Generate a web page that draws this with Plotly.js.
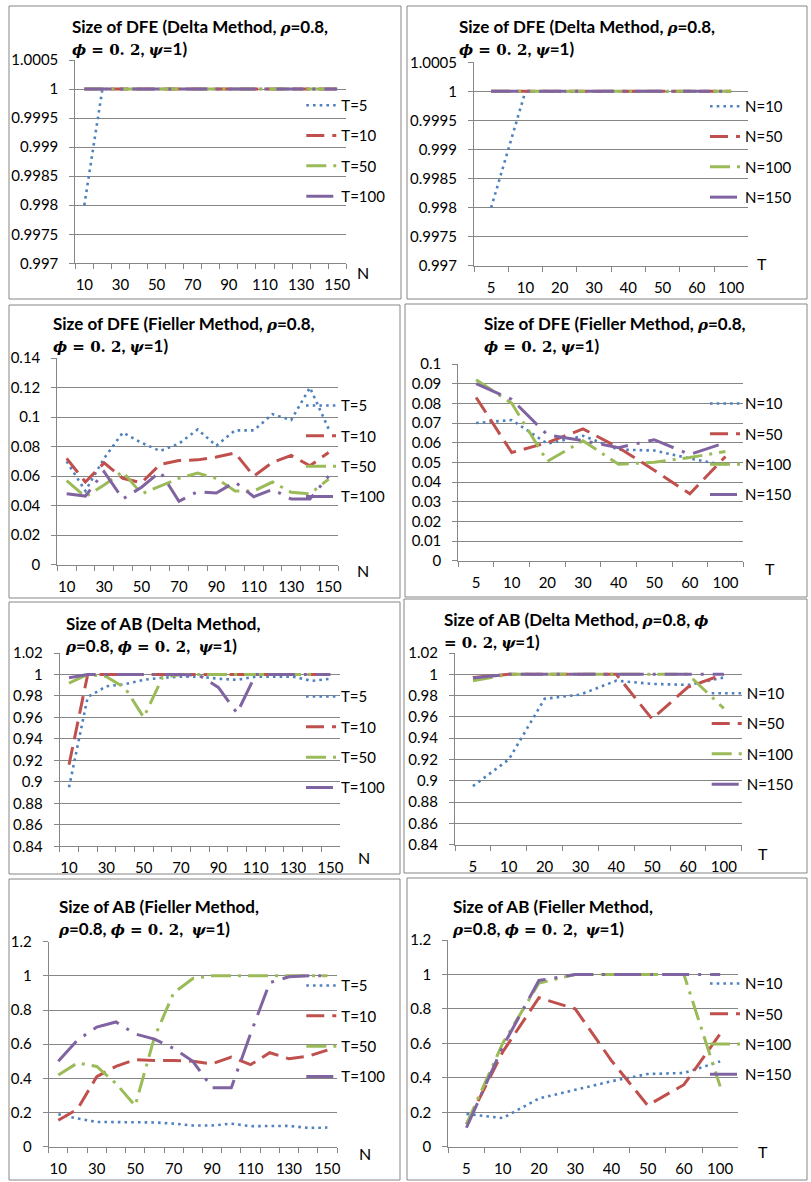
<!DOCTYPE html>
<html>
<head>
<meta charset="utf-8">
<script src="https://cdn.plot.ly/plotly-3.0.1.min.js"></script>
<style>html,body{margin:0;padding:0;background:#fff}#chart{width:811px;height:1182px}</style>
</head>
<body>
<div id="chart"></div>
<script>
// ---------------- DATA ----------------
const nCats = ['10','20','30','40','50','60','70','80','90','100','110','120','130','140','150'];
const nTickText = ['10','','30','','50','','70','','90','','110','','130','','150'];
const tCats = ['5','10','20','30','40','50','60','100'];
const tNames = ['T=5','T=10','T=50','T=100'];
const nNames = ['N=10','N=50','N=100','N=150'];

// Panel 1: Size of DFE (Delta), x = N
const p1_T5   = [0.998,1,1,1,1,1,1,1,1,1,1,1,1,1,1];
const p1_T10  = [1,1,1,1,1,1,1,1,1,1,1,1,1,1,1];
const p1_T50  = [1,1,1,1,1,1,1,1,1,1,1,1,1,1,1];
const p1_T100 = [1,1,1,1,1,1,1,1,1,1,1,1,1,1,1];
// Panel 2: Size of DFE (Delta), x = T
const p2_N10  = [0.998,1,1,1,1,1,1,1];
const p2_N50  = [1,1,1,1,1,1,1,1];
const p2_N100 = [1,1,1,1,1,1,1,1];
const p2_N150 = [1,1,1,1,1,1,1,1];
// Panel 3: Size of DFE (Fieller), x = N
const p3_T5   = [0.070,0.050,0.072,0.0895,0.0826,0.077,0.082,0.0916,0.0806,0.091,0.091,0.102,0.098,0.120,0.092];
const p3_T10  = [0.072,0.056,0.069,0.0585,0.0555,0.068,0.0705,0.071,0.073,0.0757,0.060,0.0693,0.074,0.067,0.076];
const p3_T50  = [0.057,0.046,0.054,0.063,0.048,0.053,0.0585,0.062,0.0585,0.050,0.050,0.056,0.049,0.048,0.058];
const p3_T100 = [0.048,0.0465,0.063,0.0445,0.0525,0.063,0.043,0.0495,0.0485,0.056,0.046,0.051,0.0445,0.0445,0.060];
// Panel 4: Size of DFE (Fieller), x = T
const p4_N10  = [0.070,0.0715,0.0595,0.0635,0.0565,0.056,0.052,0.0485];
const p4_N50  = [0.083,0.055,0.060,0.067,0.0575,0.046,0.034,0.053];
const p4_N100 = [0.092,0.080,0.0505,0.061,0.049,0.050,0.0525,0.0555];
const p4_N150 = [0.090,0.082,0.064,0.061,0.0575,0.0615,0.054,0.060];
// Panel 5: Size of AB (Delta), x = N
const p5_T5   = [0.895,0.979,0.989,0.991,0.995,0.997,0.998,0.998,0.996,0.995,0.998,0.998,0.998,0.994,0.996];
const p5_T10  = [0.916,1,1,1,1,1,1,1,1,1,1,1,1,1,1];
const p5_T50  = [0.992,1,0.998,0.9875,0.960,0.997,1,1,1,1,1,1,1,1,1];
const p5_T100 = [0.997,1,1,1,1,1,1,0.999,0.988,0.964,1,1,1,1,1];
// Panel 6: Size of AB (Delta), x = T
const p6_N10  = [0.895,0.920,0.977,0.981,0.994,0.991,0.990,0.997];
const p6_N50  = [0.997,1,1,1,1,0.958,0.988,1];
const p6_N100 = [0.994,1,1,1,1,1,1,0.968];
const p6_N150 = [0.9965,1,1,1,1,1,1,1];
// Panel 7: Size of AB (Fieller), x = N
const p7_T5   = [0.19,0.165,0.145,0.143,0.143,0.142,0.135,0.124,0.124,0.135,0.12,0.12,0.122,0.11,0.112];
const p7_T10  = [0.155,0.22,0.41,0.47,0.51,0.505,0.505,0.50,0.485,0.525,0.48,0.55,0.515,0.53,0.565];
const p7_T50  = [0.42,0.49,0.47,0.37,0.24,0.64,0.90,0.985,1,1,1,1,1,1,1];
const p7_T100 = [0.50,0.625,0.70,0.73,0.66,0.63,0.575,0.50,0.345,0.345,0.66,0.96,0.995,1,1];
// Panel 8: Size of AB (Fieller), x = T
const p8_N10  = [0.19,0.166,0.28,0.328,0.38,0.422,0.428,0.495];
const p8_N50  = [0.13,0.55,0.865,0.80,0.50,0.24,0.36,0.655];
const p8_N100 = [0.13,0.60,0.95,1,1,1,1,0.35];
const p8_N150 = [0.11,0.58,0.965,1,1,1,1,1];

// y tick values and labels
const yv1 = [0.997,0.9975,0.998,0.9985,0.999,0.9995,1,1.0005];
const yt1 = ['0.997','0.9975','0.998','0.9985','0.999','0.9995','1','1.0005'];
const yv3 = [0,0.02,0.04,0.06,0.08,0.1,0.12,0.14];
const yt3 = ['0','0.02','0.04','0.06','0.08','0.1','0.12','0.14'];
const yv4 = [0,0.01,0.02,0.03,0.04,0.05,0.06,0.07,0.08,0.09,0.1];
const yt4 = ['0','0.01','0.02','0.03','0.04','0.05','0.06','0.07','0.08','0.09','0.1'];
const yv5 = [0.84,0.86,0.88,0.9,0.92,0.94,0.96,0.98,1,1.02];
const yt5 = ['0.84','0.86','0.88','0.9','0.92','0.94','0.96','0.98','1','1.02'];
const yv7 = [0,0.2,0.4,0.6,0.8,1,1.2];
const yt7 = ['0','0.2','0.4','0.6','0.8','1','1.2'];

// ---------------- TEXT ----------------
const S = s => '<span style="font-family:DejaVu Serif;font-size:15px">' + s + '</span>';
const RHO = S('<i>ρ</i>'), PHI = S('<i>ϕ</i>'), PSI = S('<i>ψ</i>');
const EQ = S(' = 0. 2');
const title1 = 'Size of DFE (Delta Method, ' + RHO + '=0.8,<br>' + PHI + EQ + ', ' + PSI + '=1)';
const title3 = 'Size of DFE (Fieller Method, ' + RHO + '=0.8,<br>' + PHI + EQ + ', ' + PSI + '=1)';
const title5 = 'Size of AB (Delta Method,<br>' + RHO + '=0.8, ' + PHI + EQ + ',  ' + PSI + '=1)';
const title6 = 'Size of AB (Delta Method, ' + RHO + '=0.8, ' + PHI + '<br>' + S('= 0. 2') + ', ' + PSI + '=1)';
const title7 = 'Size of AB (Fieller Method,<br>' + RHO + '=0.8, ' + PHI + EQ + ',  ' + PSI + '=1)';

// ---------------- LAYOUT HELPERS ----------------
const W = 811, H = 1182;
const fx = x => x / W;
const fy = y => 1 - y / H;
const colors = ['#4F81BD','#C0504D','#9BBB59','#8064A2'];
const dashes = ['2.6px,4.1px','18px,8px','20px,7px,3px,7px','27px,9px,3px,9px'];
const widths = [2.6,3,3,3];
const GRAY = '#868686';
const FONT = 'Lato, "Open Sans", sans-serif';

const panels = [
  {cats:nCats, tt:nTickText, names:tNames, data:[p1_T5,p1_T10,p1_T50,p1_T100], yv:yv1, yt:yt1, yr:[0.997,1.0005],
   box:[75.3,346.3,60,263.3], frame:[9,6,401,299], title:title1, tx:70, ty:38, lx:341.3, ly:151, al:'N', ax:[363,272]},
  {cats:tCats, tt:tCats, names:nNames, data:[p2_N10,p2_N50,p2_N100,p2_N150], yv:yv1, yt:yt1, yr:[0.997,1.0005],
   box:[474,748.3,62.3,265.7], frame:[407,6,807,299], title:title1, tx:456.7, ty:38, lx:745, ly:152, al:'T', ax:[761.7,263]},
  {cats:nCats, tt:nTickText, names:tNames, data:[p3_T5,p3_T10,p3_T50,p3_T100], yv:yv3, yt:yt3, yr:[0,0.14],
   box:[57.3,338,358,564.7], frame:[9,305,400,598], title:title3, tx:51.3, ty:334.7, lx:341, ly:451.3, al:'N', ax:[363,570]},
  {cats:tCats, tt:tCats, names:nNames, data:[p4_N10,p4_N50,p4_N100,p4_N150], yv:yv4, yt:yt4, yr:[0,0.1],
   box:[458.3,743.3,364,560.7], frame:[405,304,807,597], title:title3, tx:481.7, ty:334.7, lx:745, ly:449.3, al:'T', ax:[770,568]},
  {cats:nCats, tt:nTickText, names:tNames, data:[p5_T5,p5_T10,p5_T50,p5_T100], yv:yv5, yt:yt5, yr:[0.84,1.02],
   box:[59.7,339.7,653,846.3], frame:[9,602,400,874], title:title5, tx:63, ty:634.7, lx:341, ly:742.3, al:'N', ax:[364,857]},
  {cats:tCats, tt:tCats, names:nNames, data:[p6_N10,p6_N50,p6_N100,p6_N150], yv:yv5, yt:yt5, yr:[0.84,1.02],
   box:[455,741.7,653,844.7], frame:[404,599,807,873], title:title6, tx:442.3, ty:630.5, lx:746.7, ly:739, al:'T', ax:[763,853]},
  {cats:nCats, tt:nTickText, names:tNames, data:[p7_T5,p7_T10,p7_T50,p7_T100], yv:yv7, yt:yt7, yr:[0,1.2],
   box:[48.7,337,941.7,1146.7], frame:[9,879,400,1180], title:title7, tx:56.3, ty:917.5, lx:341.3, ly:1031.3, al:'N', ax:[364.7,1153.3]},
  {cats:tCats, tt:tCats, names:nNames, data:[p8_N10,p8_N50,p8_N100,p8_N150], yv:yv7, yt:yt7, yr:[0,1.2],
   box:[448.3,738.3,940,1146.7], frame:[407,878,807,1180], title:title7, tx:450, ty:917.5, lx:745, ly:1029.2, al:'T', ax:[763.3,1151.7]}
];

const traces = [];
const layout = {
  width: W, height: H,
  margin: {l:0, r:0, t:0, b:0, pad:0, autoexpand:false},
  paper_bgcolor: '#ffffff', plot_bgcolor: 'rgba(0,0,0,0)',
  showlegend: true,
  font: {family: FONT, color: '#000', size: 15},
  annotations: [], shapes: []
};

panels.forEach((p, i) => {
  const n = i + 1;
  const sfx = n === 1 ? '' : String(n);
  const legId = 'legend' + sfx;
  p.data.forEach((vals, k) => {
    traces.push({
      type: 'scatter', mode: 'lines', x: p.cats, y: vals, name: p.names[k],
      xaxis: 'x' + sfx, yaxis: 'y' + sfx, legend: legId, legendgroup: 'g' + n + '_' + k,
      line: {color: colors[k], width: widths[k], dash: dashes[k]},
      hoverinfo: 'skip'
    });
  });
  const alias = {};
  p.cats.forEach((c, j) => { if (p.tt[j] !== c) alias[c] = p.tt[j] === '' ? ' ' : p.tt[j]; });
  layout['xaxis' + sfx] = {
    type: 'category', domain: [fx(p.box[0]), fx(p.box[1])], anchor: 'y' + sfx,
    range: [-0.5, p.cats.length - 0.5], autorange: false,
    tickmode: 'linear', tick0: 0, dtick: 1, tickson: 'boundaries', labelalias: alias, tickangle: 0,
    ticks: 'outside', ticklen: 5, tickwidth: 1, tickcolor: GRAY,
    showline: true, linecolor: GRAY, linewidth: 1, showgrid: false, zeroline: false,
    tickfont: {family: FONT, size: 15, color: '#000'}, ticklabelstandoff: 8, fixedrange: true
  };
  layout['yaxis' + sfx] = {
    domain: [fy(p.box[3]), fy(p.box[2])], anchor: 'x' + sfx,
    range: p.yr, autorange: false,
    tickmode: 'array', tickvals: p.yv, ticktext: p.yt,
    ticks: 'outside', ticklen: 5, tickwidth: 1, tickcolor: GRAY,
    showline: true, linecolor: GRAY, linewidth: 1,
    showgrid: true, gridcolor: GRAY, gridwidth: 1, zeroline: false,
    tickfont: {family: FONT, size: 15, color: '#000'}, ticklabelstandoff: 8, fixedrange: true
  };
  layout[legId] = {
    x: fx(p.lx - 40), y: fy(p.ly), xanchor: 'left', yanchor: 'middle',
    xref: 'paper', yref: 'paper',
    bgcolor: 'rgba(0,0,0,0)', borderwidth: 0,
    font: {family: FONT, size: 15, color: '#000'},
    tracegroupgap: 7.8, itemwidth: 30, traceorder: 'grouped'
  };
  layout.shapes.push({
    type: 'rect', xref: 'paper', yref: 'paper',
    x0: fx(p.frame[0]), x1: fx(p.frame[2]), y0: fy(p.frame[3]), y1: fy(p.frame[1]),
    line: {color: GRAY, width: 1}, fillcolor: 'rgba(0,0,0,0)', layer: 'below'
  });
  layout.annotations.push({
    xref: 'paper', yref: 'paper', x: fx(p.tx), y: fy(p.ty), xanchor: 'left', yanchor: 'middle',
    align: 'left', showarrow: false, text: p.title,
    font: {family: FONT, size: 17, color: '#000', weight: 700}
  });
  layout.annotations.push({
    xref: 'paper', yref: 'paper', x: fx(p.ax[0]), y: fy(p.ax[1]), xanchor: 'center', yanchor: 'middle',
    showarrow: false, text: p.al, font: {family: FONT, size: 16, color: '#000'}
  });
});

Plotly.newPlot('chart', traces, layout, {staticPlot: true, displayModeBar: false});
</script>
</body>
</html>
